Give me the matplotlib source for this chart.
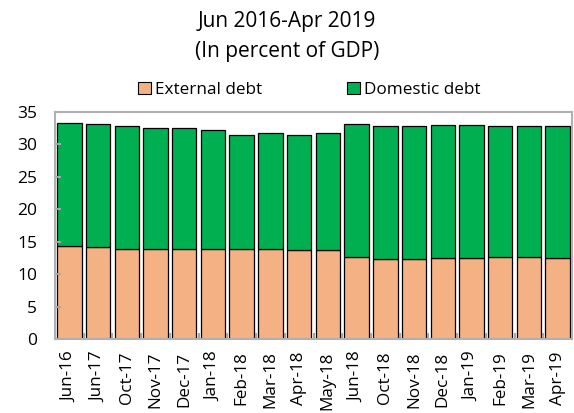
import matplotlib
matplotlib.use("Agg")
import matplotlib.pyplot as plt
import numpy as np

categories = ["Jun-16", "Jun-17", "Oct-17", "Nov-17", "Dec-17", "Jan-18", "Feb-18", "Mar-18",
              "Apr-18", "May-18", "Jun-18", "Oct-18", "Nov-18", "Dec-18", "Jan-19", "Feb-19",
              "Mar-19", "Apr-19"]
total = [33.3, 33.2, 32.8, 32.6, 32.5, 32.2, 31.5, 31.8, 31.5, 31.7, 33.2, 32.9, 32.9, 33.0,
         33.0, 32.9, 32.8, 32.8]
external = [14.4, 14.2, 13.9, 13.8, 13.9, 13.9, 13.9, 13.9, 13.7, 13.7, 12.7, 12.4, 12.4, 12.5,
            12.5, 12.6, 12.6, 12.5]
domestic = [round(t - e, 2) for t, e in zip(total, external)]
yticks = [0, 5, 10, 15, 20, 25, 30, 35]

plt.rcParams['font.family'] = ['Open Sans', 'DejaVu Sans']

fig = plt.figure(figsize=(5.74, 4.13), dpi=100)
ax = fig.add_axes([55/574, 1 - 339/413, (572-55)/574, (339-112)/413])

x = np.arange(len(categories))
c_ext = "#F4B183"
c_dom = "#00B050"
ax.bar(x, external, width=0.85, color=c_ext, edgecolor="black", linewidth=0.9, label="External debt")
ax.bar(x, domestic, bottom=external, width=0.85, color=c_dom, edgecolor="black", linewidth=0.9,
       label="Domestic debt")

ax.set_xlim(-0.5, len(categories) - 0.5)
ax.set_ylim(0, 35)
ax.set_yticks(yticks)
ax.set_yticklabels([str(v) for v in yticks], fontsize=12.5)
ax.set_xticks(x)
ax.set_xticklabels(categories, rotation=90, fontsize=12.3, ha="center")
ax.tick_params(axis='x', length=0, pad=9)
ax.tick_params(axis='y', direction='in', length=4, color="#A6A6A6", width=1.5, pad=13)
ax.set_xticks(np.arange(len(categories) + 1) - 0.5, minor=True)
ax.tick_params(axis='x', which='minor', direction='in', length=4, color="#A6A6A6", width=1.5)
for s in ax.spines.values():
    s.set_color("#B0B0B0")
    s.set_linewidth(1.5)

fig.text(0.5, 1 - 21/413, "Jun 2016-Apr 2019", ha="center", va="center", fontsize=15)
fig.text(0.5, 1 - 51/413, "(In percent of GDP)", ha="center", va="center", fontsize=15)

leg = fig.legend(loc="center", bbox_to_anchor=(0.539, 1 - 90/413), ncol=2, frameon=False,
                 fontsize=12.3, handlelength=0.75, handleheight=0.75, handletextpad=0.25,
                 columnspacing=5.0)
for h in leg.legend_handles:
    h.set_linewidth(0.8)

fig.savefig("out.png", dpi=100)
